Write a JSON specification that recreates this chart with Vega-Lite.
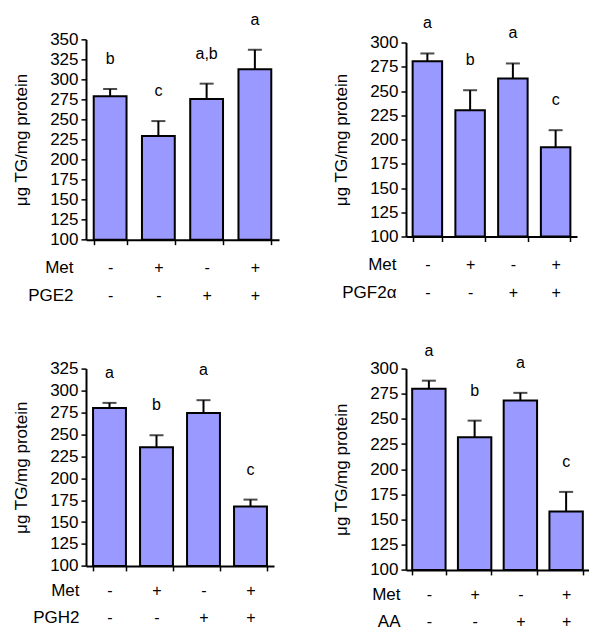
{
  "$schema": "https://vega.github.io/schema/vega-lite/v6.json",
  "padding": {"left": 12, "top": 11, "right": 0, "bottom": 0},
  "config": {
    "font": "Liberation Sans",
    "view": {"stroke": null},
    "axis": {"labelFontSize": 16, "titleFontSize": 17, "titleFontWeight": "normal", "labelColor": "black", "titleColor": "black", "domainColor": "black", "domainWidth": 2, "tickColor": "black", "tickWidth": 1.5, "tickSize": 5, "grid": false},
    "text": {"fontSize": 16, "color": "black"}
  },
  "datasets": {
    "pge2": [
      {"group": "- -", "mean": 279.0, "upper": 288.0, "letter": "b"},
      {"group": "+ -", "mean": 229.4, "upper": 248.0, "letter": "c"},
      {"group": "- +", "mean": 275.6, "upper": 294.7, "letter": "a,b"},
      {"group": "+ +", "mean": 312.6, "upper": 337.0, "letter": "a"}
    ],
    "pgf2a": [
      {"group": "- -", "mean": 280.7, "upper": 288.7, "letter": "a"},
      {"group": "+ -", "mean": 230.2, "upper": 250.8, "letter": "b"},
      {"group": "- +", "mean": 262.9, "upper": 278.4, "letter": "a"},
      {"group": "+ +", "mean": 192.1, "upper": 209.6, "letter": "c"}
    ],
    "pgh2": [
      {"group": "- -", "mean": 280.2, "upper": 285.9, "letter": "a"},
      {"group": "+ -", "mean": 235.4, "upper": 249.0, "letter": "b"},
      {"group": "- +", "mean": 274.5, "upper": 289.0, "letter": "a"},
      {"group": "+ +", "mean": 167.6, "upper": 175.6, "letter": "c"}
    ],
    "aa": [
      {"group": "- -", "mean": 280.1, "upper": 288.0, "letter": "a"},
      {"group": "+ -", "mean": 231.8, "upper": 248.3, "letter": "b"},
      {"group": "- +", "mean": 268.2, "upper": 275.9, "letter": "a"},
      {"group": "+ +", "mean": 157.9, "upper": 177.5, "letter": "c"}
    ]
  },
  "columns": 2,
  "spacing": {"row": 128.6, "column": 127},
  "bounds": "flush",
  "center": {"row": true},
  "concat": [
    {
      "width": 193, "height": 200.3,
      "data": {"name": "pge2"},
      "encoding": {
        "x": {"field": "group", "type": "nominal", "sort": null,
          "scale": {"paddingInner": 0.32, "paddingOuter": 0.16},
          "axis": {"labelExpr": "split(datum.label, ' ')", "labelAngle": 0, "labelLineHeight": 28, "labelPadding": 15, "labelBaseline": "top", "labelOverlap": false, "tickBand": "extent", "title": ["Met", "PGE2"], "titleX": -13, "titleY": 20, "titleAlign": "right", "titleBaseline": "top", "titleLineHeight": 28, "titleAngle": 0}},
        "y": {"field": "mean", "type": "quantitative", "title": "μg TG/mg protein",
          "scale": {"domain": [100, 350], "zero": false, "nice": false},
          "axis": {"values": [100, 125, 150, 175, 200, 225, 250, 275, 300, 325, 350], "labelFontSize": 17, "labelPadding": 3, "titlePadding": 19}}
      },
      "layer": [
        {"mark": {"type": "rule", "color": "black", "strokeWidth": 2}, "encoding": {"y2": {"field": "upper"}}},
        {"mark": {"type": "bar", "fill": "#9999ff", "stroke": "black", "strokeWidth": 2}, "encoding": {"y2": {"datum": 100}}},
        {"mark": {"type": "tick", "color": "black", "thickness": 2, "size": 14}, "encoding": {"y": {"field": "upper", "type": "quantitative", "title": "μg TG/mg protein"}}},
        {"mark": {"type": "text", "dy": -30, "baseline": "middle"}, "encoding": {"y": {"field": "upper", "type": "quantitative", "title": "μg TG/mg protein"}, "text": {"field": "letter"}}}
      ]
    },
    {
      "width": 171, "height": 194,
      "data": {"name": "pgf2a"},
      "encoding": {
        "x": {"field": "group", "type": "nominal", "sort": null,
          "scale": {"paddingInner": 0.31, "paddingOuter": 0.155},
          "axis": {"labelExpr": "split(datum.label, ' ')", "labelAngle": 0, "labelLineHeight": 28, "labelPadding": 15, "labelBaseline": "top", "labelOverlap": false, "tickBand": "extent", "title": ["Met", "PGF2α"], "titleX": -10, "titleY": 20, "titleAlign": "right", "titleBaseline": "top", "titleLineHeight": 28, "titleAngle": 0}},
        "y": {"field": "mean", "type": "quantitative", "title": "μg TG/mg protein",
          "scale": {"domain": [100, 300], "zero": false, "nice": false},
          "axis": {"values": [100, 125, 150, 175, 200, 225, 250, 275, 300], "labelFontSize": 17, "labelPadding": 3, "titlePadding": 19}}
      },
      "layer": [
        {"mark": {"type": "rule", "color": "black", "strokeWidth": 2}, "encoding": {"y2": {"field": "upper"}}},
        {"mark": {"type": "bar", "fill": "#9999ff", "stroke": "black", "strokeWidth": 2}, "encoding": {"y2": {"datum": 100}}},
        {"mark": {"type": "tick", "color": "black", "thickness": 2, "size": 14}, "encoding": {"y": {"field": "upper", "type": "quantitative", "title": "μg TG/mg protein"}}},
        {"mark": {"type": "text", "dy": -30, "baseline": "middle"}, "encoding": {"y": {"field": "upper", "type": "quantitative", "title": "μg TG/mg protein"}, "text": {"field": "letter"}}}
      ]
    },
    {
      "width": 188, "height": 197.3,
      "data": {"name": "pgh2"},
      "encoding": {
        "x": {"field": "group", "type": "nominal", "sort": null,
          "scale": {"paddingInner": 0.3, "paddingOuter": 0.15},
          "axis": {"labelExpr": "split(datum.label, ' ')", "labelAngle": 0, "labelLineHeight": 27, "labelPadding": 12, "labelBaseline": "top", "labelOverlap": false, "tickBand": "extent", "title": ["Met", "PGH2"], "titleX": -7, "titleY": 17, "titleAlign": "right", "titleBaseline": "top", "titleLineHeight": 27, "titleAngle": 0}},
        "y": {"field": "mean", "type": "quantitative", "title": "μg TG/mg protein",
          "scale": {"domain": [100, 325], "zero": false, "nice": false},
          "axis": {"values": [100, 125, 150, 175, 200, 225, 250, 275, 300, 325], "labelFontSize": 17, "labelPadding": 3, "titlePadding": 19}}
      },
      "layer": [
        {"mark": {"type": "rule", "color": "black", "strokeWidth": 2}, "encoding": {"y2": {"field": "upper"}}},
        {"mark": {"type": "bar", "fill": "#9999ff", "stroke": "black", "strokeWidth": 2}, "encoding": {"y2": {"datum": 100}}},
        {"mark": {"type": "tick", "color": "black", "thickness": 2, "size": 14}, "encoding": {"y": {"field": "upper", "type": "quantitative", "title": "μg TG/mg protein"}}},
        {"mark": {"type": "text", "dy": -30, "baseline": "middle"}, "encoding": {"y": {"field": "upper", "type": "quantitative", "title": "μg TG/mg protein"}, "text": {"field": "letter"}}}
      ]
    },
    {
      "width": 183, "height": 201.3,
      "data": {"name": "aa"},
      "encoding": {
        "x": {"field": "group", "type": "nominal", "sort": null,
          "scale": {"paddingInner": 0.27, "paddingOuter": 0.135},
          "axis": {"labelExpr": "split(datum.label, ' ')", "labelAngle": 0, "labelLineHeight": 27, "labelPadding": 12, "labelBaseline": "top", "labelOverlap": false, "tickBand": "extent", "title": ["Met", "AA"], "titleX": -6, "titleY": 17, "titleAlign": "right", "titleBaseline": "top", "titleLineHeight": 27, "titleAngle": 0}},
        "y": {"field": "mean", "type": "quantitative", "title": "μg TG/mg protein",
          "scale": {"domain": [100, 300], "zero": false, "nice": false},
          "axis": {"values": [100, 125, 150, 175, 200, 225, 250, 275, 300], "labelFontSize": 17, "labelPadding": 3, "titlePadding": 19}}
      },
      "layer": [
        {"mark": {"type": "rule", "color": "black", "strokeWidth": 2}, "encoding": {"y2": {"field": "upper"}}},
        {"mark": {"type": "bar", "fill": "#9999ff", "stroke": "black", "strokeWidth": 2}, "encoding": {"y2": {"datum": 100}}},
        {"mark": {"type": "tick", "color": "black", "thickness": 2, "size": 14}, "encoding": {"y": {"field": "upper", "type": "quantitative", "title": "μg TG/mg protein"}}},
        {"mark": {"type": "text", "dy": -30, "baseline": "middle"}, "encoding": {"y": {"field": "upper", "type": "quantitative", "title": "μg TG/mg protein"}, "text": {"field": "letter"}}}
      ]
    }
  ]
}
